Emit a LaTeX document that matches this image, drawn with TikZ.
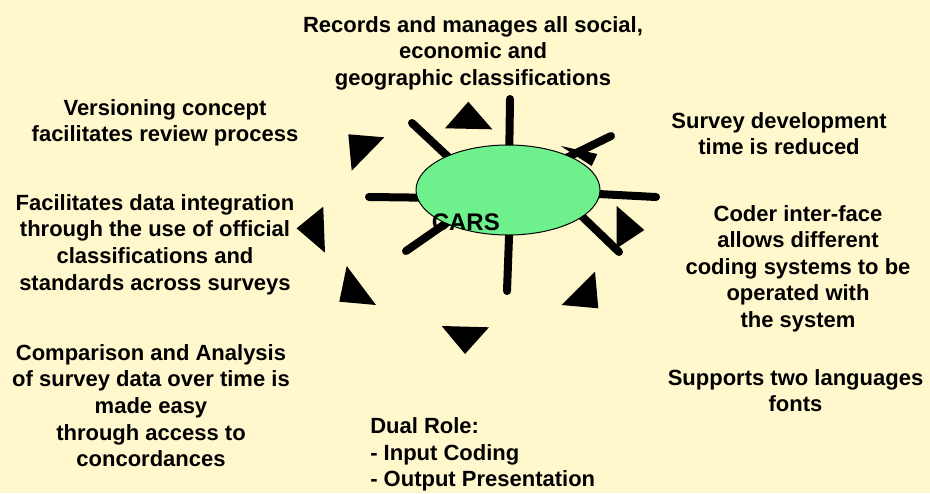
\documentclass[tikz,border=0pt]{standalone}
\usepackage{fontspec}
\setmainfont{Liberation Sans}
\usetikzlibrary{shapes.geometric}
\definecolor{bg}{RGB}{255,248,204}
\definecolor{ell}{RGB}{110,240,140}
\newcommand{\firstl}{\rule{0pt}{16pt}}
\begin{document}
\begin{tikzpicture}[x=0.75pt,y=-0.75pt,
  txt/.style={font=\bfseries\fontsize{16.5}{19.95}\selectfont, align=center, inner sep=0pt, anchor=north},
  spoke/.style={line width=6pt, line cap=round},
  tri/.style={fill=black}]
\fill[bg] (0,0) rectangle (930,493);
\useasboundingbox (0,0) rectangle (930,493);

% spokes (behind the ellipse)
\coordinate (o1) at (510,99);  \coordinate (i1) at (509,170);
\coordinate (o2) at (412,123); \coordinate (i2) at (460,168);
\coordinate (o3) at (369,197); \coordinate (i3) at (450,198);
\coordinate (o4) at (406,251); \coordinate (i4) at (455,217);
\coordinate (o5) at (507,291); \coordinate (i5) at (510,210);
\coordinate (o6) at (619,252); \coordinate (i6) at (565,200);
\coordinate (o7) at (656,197); \coordinate (i7) at (560,192);
\coordinate (o8) at (611,136); \coordinate (i8) at (560,161);
\foreach \k in {1,...,8} { \draw[spoke] (o\k) -- (i\k); }

% central ellipse
\node[ellipse, draw=black, line width=0.75pt, fill=ell, minimum width=138pt, minimum height=67.5pt, inner sep=0pt] (cars) at (508,190) {};

% triangles
\fill[tri] (468.3,101.7) -- (445,128.3) -- (492.3,129.3) -- cycle;
\fill[tri] (348.3,134.3) -- (384.3,137.3) -- (351.7,170.7) -- cycle;
\fill[tri] (560.7,146) -- (597.3,154) -- (591.7,166) -- cycle;
\fill[tri] (616.7,206) -- (644.3,230) -- (616.7,248.3) -- cycle;
\fill[tri] (595,271.7) -- (561.7,305) -- (598.3,308.3) -- cycle;
\fill[tri] (441.7,326) -- (489,327.3) -- (465,354) -- cycle;
\fill[tri] (346.7,266) -- (339.3,301.7) -- (376,305) -- cycle;
\fill[tri] (323.2,206.7) -- (296.6,228.3) -- (325,252.7) -- cycle;

% label inside the ellipse
\node[font=\bfseries\fontsize{18}{20}\selectfont, inner sep=0pt, anchor=base west] (carslbl) at (431.5,230.7) {CARS};

% text blocks
\node[txt] (records) at (473,10.4) {\firstl Records and manages all social,\\ economic and\\ geographic classifications};
\node[txt] (versioning) at (165,93.7) {\firstl Versioning concept\\ facilitates review process};
\node[txt] (integration) at (155,188.7) {\firstl Facilitates data integration\\ through the use of official\\ classifications and\\ standards across surveys};
\node[txt] (survey) at (779,106.7) {\firstl Survey development\\ time is reduced};
\node[txt] (coder) at (798,199.4) {\firstl Coder inter-face\\ allows different\\ coding systems to be\\ operated with\\ the system};
\node[txt] (comparison) at (151,338.7) {\firstl Comparison and Analysis\\ of survey data over time is\\ made easy\\ through access to\\ concordances};
\node[txt] (languages) at (795.5,363.7) {\firstl Supports two languages\\ fonts};
\node[txt, align=left, anchor=north west] (dual) at (370,412) {\firstl Dual Role:\\ - Input Coding\\ - Output Presentation};
\end{tikzpicture}
\end{document}
